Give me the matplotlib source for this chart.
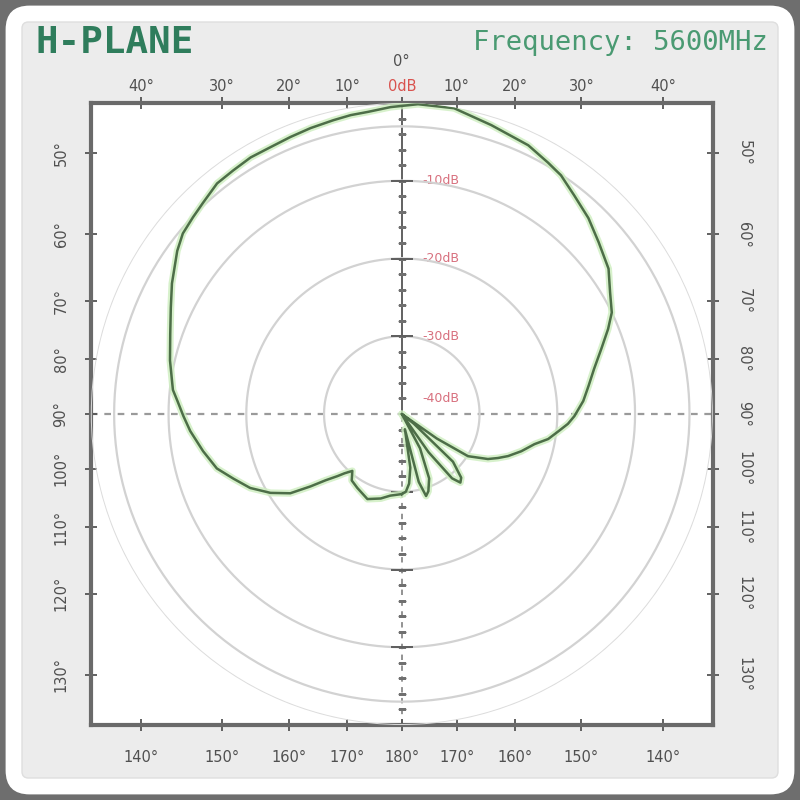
import numpy as np
import matplotlib.pyplot as plt
from matplotlib.patches import FancyBboxPatch

# --- дані діаграми спрямованості (кут за годинниковою стрілкою від 0°, дБ) ---
angles_deg = [-180, -172, -166, -158, -149, -143, -139, -136, -134, -131, -128.4,
              -125.4, -121, -116, -111, -106.4, -100.6, -94.6, -90.5, -86.7, -84,
              -77, -71, -65.3, -60.4, -54, -50.5, -46.7, -43.3, -38.7, -34.7,
              -30.5, -26.2, -21.9, -17.7, -13.1, -9.7, -6.4, -2.1, 3, 9.7, 17.2,
              25.2, 30.2, 33.7, 38.3, 43.6, 48.9, 54.9, 59.8, 64.2, 67.6, 71.9,
              76.8, 81.4, 85.9, 90.7, 93.4, 96.2, 99.7, 102.8, 107.3, 111.6, 114.6,
              117.6, 122.5, 125, 127, 129, 133, 137, 139.5, 142, 145, 148, 152,
              157, 161, 163.5, 166, 168.5, 171, 174, 177, 180]
gain_db = [-29.7, -29.4, -28.8, -28.2, -28.9, -29.3, -30.3, -29.4, -28.5, -27.0,
           -25.0, -22.4, -20.3, -18.3, -16.8, -15.2, -14.0, -12.7, -11.9, -11.1,
           -10.4, -9.4, -8.5, -7.3, -6.0, -4.3, -3.5, -3.1, -2.7, -2.0, -1.9,
           -1.7, -1.75, -1.6, -1.4, -1.2, -1.0, -0.9, -0.5, -0.1, -0.1, -1.1,
           -1.8, -2.6, -3.1, -4.2, -5.2, -6.4, -7.5, -9.0, -10.0, -11.3, -13.0,
           -14.6, -15.7, -16.6, -17.8, -18.6, -19.7, -20.9, -22.5, -23.9, -25.3,
           -26.4, -27.5, -29.9, -34.5, -40.0, -38.0, -31.0, -28.8, -28.4, -29.5,
           -34.0, -40.0, -35.0, -31.0, -29.5, -29.0, -31.0, -38.0, -33.0, -31.0,
           -30.0, -29.7]

ring_levels = [-3, -10, -20, -30]
ring_labels = ["-10dB", "-20dB", "-30dB", "-40dB"]
ring_label_levels = [-10, -20, -30, -40]

top_angles = [-40, -30, -20, -10, 0, 10, 20, 30, 40]
top_labels = ["40°", "30°", "20°", "10°", "0dB", "10°", "20°", "30°", "40°"]
bottom_labels = ["140°", "150°", "160°", "170°", "180°", "170°", "160°", "150°", "140°"]
side_angles = [50, 60, 70, 80, 90, 100, 110, 120, 130]
side_labels = ["50°", "60°", "70°", "80°", "90°", "100°", "110°", "120°", "130°"]

r_min, r_max = -40, 0

# --- фігура та фон ---
fig = plt.figure(figsize=(8, 8), dpi=100, facecolor="#6e6e6e")
fig.patches.append(FancyBboxPatch((0.007, 0.007), 0.986, 0.986,
                                  boxstyle="round,pad=0,rounding_size=0.03",
                                  transform=fig.transFigure, fc="white", ec="none",
                                  zorder=-10))
fig.patches.append(FancyBboxPatch((0.0275, 0.0275), 0.945, 0.945,
                                  boxstyle="round,pad=0,rounding_size=0.008",
                                  transform=fig.transFigure, fc="#ececec", ec="#dedede",
                                  zorder=-9))

rect = [0.1135, 0.09375, 0.7775, 0.7775]
ax = fig.add_axes(rect)
ax.set_facecolor("white")
ax.set_xlim(-1, 1)
ax.set_ylim(-1, 1)
for s in ax.spines.values():
    s.set_color("#6a6a6a")
    s.set_linewidth(3)

# осьові лінії
ax.plot([0, 0], [0, 1], color="#555555", lw=1.3, zorder=1)
ax.plot([0, 0], [-1, 0], color="#8a8a8a", lw=1.3, ls=(0, (3, 3)), zorder=1)
ax.axhline(0, color="#9a9a9a", lw=1.6, ls=(0, (3, 3)), zorder=1)

# мітки по краях рамки
top_pos = np.tan(np.radians(top_angles))
side_pos = 1 / np.tan(np.radians(side_angles))
lab_kw = dict(fontsize=10.5, color="#505050")

ax.set_xticks(top_pos, bottom_labels, **lab_kw)
ax.set_yticks(side_pos, side_labels, rotation=90, va="center", **lab_kw)
ax.tick_params(direction="inout", length=8, width=1.3, color="#555555")
ax.tick_params(axis="x", pad=14)
ax.tick_params(axis="y", pad=12)

top = ax.secondary_xaxis("top")
top.set_xticks(top_pos, top_labels, **lab_kw)
top.tick_params(direction="inout", length=8, width=1.3, color="#555555", pad=2.5)
top.spines["top"].set_visible(False)
top.get_xticklabels()[4].set_color("#d9534f")

right = ax.secondary_yaxis("right")
right.set_yticks(side_pos, side_labels, rotation=-90, va="center", **lab_kw)
right.tick_params(direction="inout", length=8, width=1.3, color="#555555", pad=13)
right.spines["right"].set_visible(False)

ax.annotate("0°", xy=(0, 1), xytext=(0, 41), textcoords="offset pixels",
            ha="center", va="center", **lab_kw)

# підписи кілець
for lev, txt in zip(ring_label_levels, ring_labels):
    y = (lev - r_min) / (r_max - r_min)
    if lev == r_min:
        y += 0.05
    ax.text(0.065, y, txt, fontsize=9, color="#d8707e", va="center", ha="left", zorder=3)

# --- полярна частина ---
pax = fig.add_axes(rect, projection="polar")
pax.set_theta_zero_location("N")
pax.set_theta_direction(-1)
pax.set_ylim(r_min, r_max)
pax.axis("off")

full = np.linspace(0, 2 * np.pi, 361)
pax.plot(full, np.full_like(full, 0), color="#dcdcdc", lw=1.4)
for lev in ring_levels:
    pax.plot(full, np.full_like(full, lev), color="#d2d2d2", lw=1.6)

minor = np.arange(-38, 0, 2)
for th in (0, np.pi):
    pax.plot(np.full_like(minor, th, dtype=float), minor, ls="none",
             marker="_", ms=6, mew=1.0, color="#707070")
    pax.plot(np.full(3, th), [-10, -20, -30], ls="none",
             marker="_", ms=16, mew=1.3, color="#606060")

theta = np.radians(angles_deg)
r = np.clip(gain_db, r_min, r_max)
pax.plot(theta, r, color="#cdeebf", lw=5, alpha=0.8, solid_joinstyle="round")
pax.plot(theta, r, color="#4d6e48", lw=1.8, solid_joinstyle="round")

# --- заголовки ---
fig.text(0.044, 0.946, "H-PLANE", fontsize=27, fontweight="bold",
         family="DejaVu Sans Mono", color="#2f7d5c", va="center", ha="left")
fig.text(0.96, 0.946, "Frequency: 5600MHz", fontsize=19.5,
         family="DejaVu Sans Mono", color="#4a9a72", va="center", ha="right")

fig.savefig("out.png", dpi=100, facecolor=fig.get_facecolor())
